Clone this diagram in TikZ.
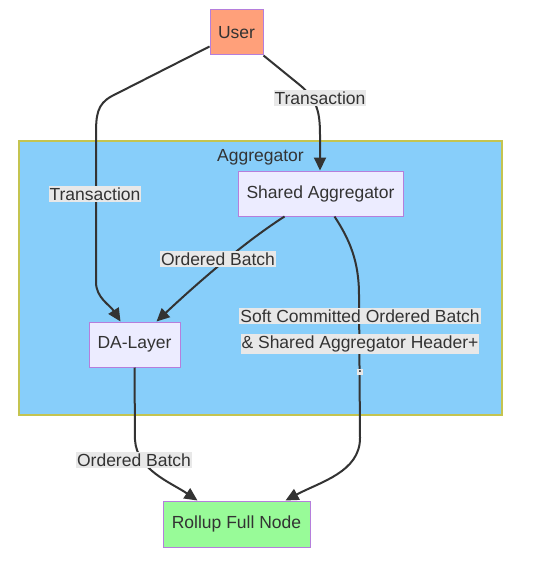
\documentclass[tikz,border=0pt]{standalone}
\usepackage{xcolor}
\usepackage{tikz}
\usepackage{fontspec}
\setmainfont{Liberation Sans}
\usetikzlibrary{
  arrows.meta,
  positioning,
  calc
}
\definecolor{userFill}{HTML}{FFA07A}
\definecolor{boxFill}{HTML}{ECECFF}
\definecolor{boxLine}{HTML}{B57EDC}
\definecolor{rollFill}{HTML}{98FB98}
\definecolor{aggFill}{HTML}{87CEFA}
\definecolor{aggLine}{HTML}{C4C450}
\definecolor{edgeLine}{HTML}{333333}
\definecolor{labelFill}{HTML}{E8E8E8}
\definecolor{textCol}{HTML}{333333}

\tikzset{
  nodebox/.style={draw=boxLine, line width=1pt, fill=boxFill, minimum height=45pt,
    inner sep=0pt, font=\fontsize{17.5}{20}\selectfont, text=textCol},
  edgelabel/.style={fill=labelFill, inner xsep=1pt, inner ysep=2pt,
    font=\fontsize{17.5}{20}\selectfont, text=textCol},
  flow/.style={draw=edgeLine, line width=2pt, -{Triangle[length=13pt, width=12pt]}}
}

\begin{document}
\begin{tikzpicture}[x=1pt, y=-1pt]
  \useasboundingbox[fill=white] (0,0) rectangle (553,567);
  % cluster
  \draw[draw=aggLine, line width=1.2pt, fill=aggFill] (19,141) rectangle (502,415);
  \node[font=\fontsize{17.5}{20}\selectfont, text=textCol] (aggtitle) at (260.5,157) {Aggregator};
  % nodes
  \node[nodebox, fill=userFill, minimum width=53pt] (user) at (236.5,32.5) {User};
  \node[nodebox, minimum width=165pt] (shared) at (320.5,193.5) {Shared Aggregator};
  \node[nodebox, minimum width=91pt] (da) at (134.5,344.5) {DA-Layer};
  \node[nodebox, fill=rollFill, minimum width=147pt, minimum height=46pt] (rollup) at (236.5,524) {Rollup Full Node};
  % connectors
  \draw[flow] ($(user.south west)+(0,-9)$) -- (112,96)
    .. controls (97,104) and (96,115) .. (96,135) -- (96,282)
    .. controls (96,298) and (110,305) .. ([xshift=-14pt]da.north);
  \draw[flow] (user.south east) -- (301,86)
    .. controls (317,100) and (320,112) .. (320,135) -- ([xshift=-0.5pt]shared.north);
  \draw[flow] ([xshift=-36pt]shared.south) .. controls (240,245) and (190,290) .. ([xshift=22pt]da.north);
  \draw[flow] ([xshift=14pt]shared.south) .. controls (350,240) and (359,262) .. (359,295)
    -- (360,438) .. controls (360,472) and (320,482) .. ([xshift=49pt]rollup.north);
  \draw[flow] (da.south) -- (135,440)
    .. controls (137,470) and (170,482) .. ([xshift=-39pt]rollup.north);
  % edge labels
  \node[edgelabel] (lbltxright) at (320,98) {Transaction};
  \node[edgelabel] (lbltxleft) at (95,194) {Transaction};
  \node[edgelabel] (lblbatchtop) at (218,259) {Ordered Batch};
  \node[edgelabel] (lblsoft) at (360,316) {Soft Committed Ordered Batch};
  \node[edgelabel] (lblheader) at (360,344) {\& Shared Aggregator Header+};
  \node[edgelabel] (lbldot) at (360,372) {.};
  \node[edgelabel] (lblbatchbot) at (134,460) {Ordered Batch};
\end{tikzpicture}
\end{document}
